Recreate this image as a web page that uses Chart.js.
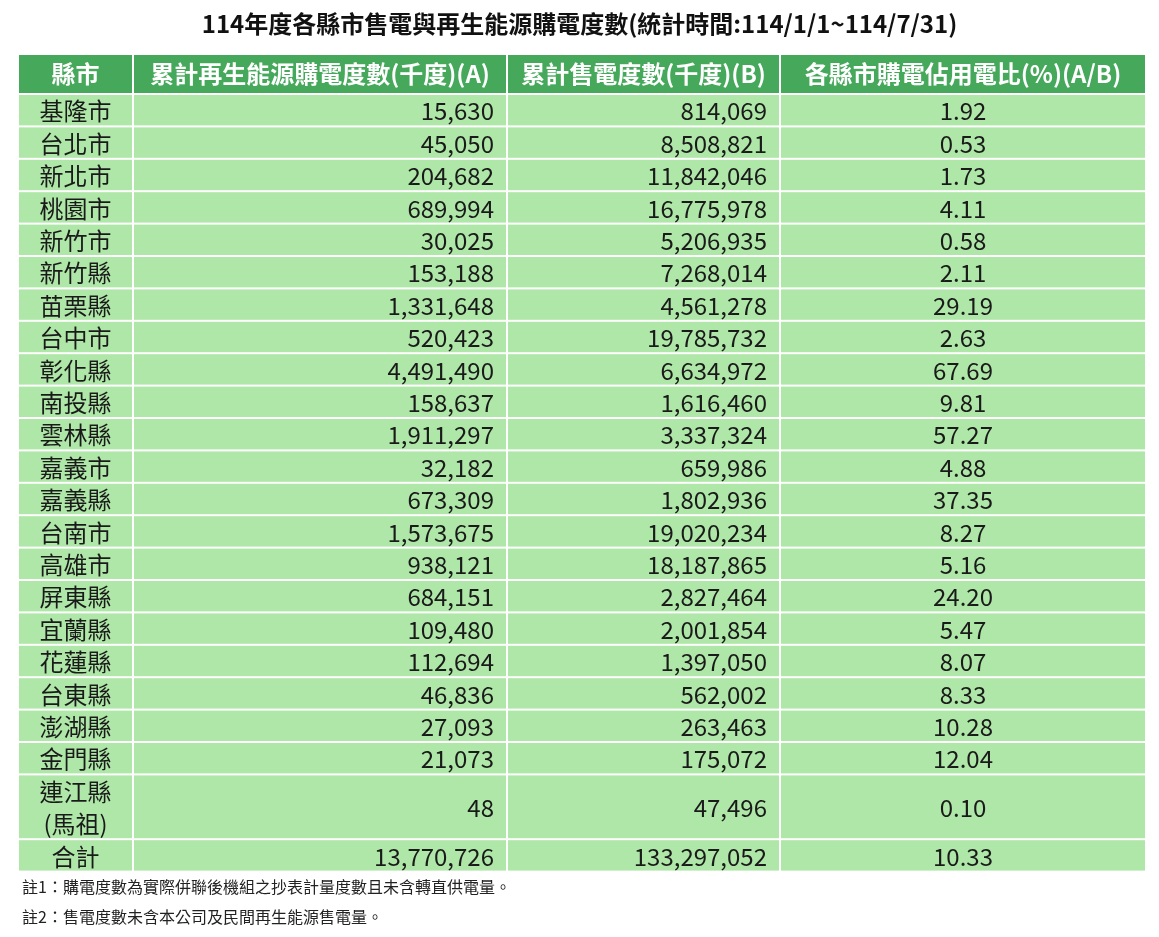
<!DOCTYPE html>
<html><head><meta charset="utf-8">
<script src="https://cdn.jsdelivr.net/npm/chart.js@4"></script>
<style>html,body{margin:0;background:#fff}#wrap{width:1159px;height:937px}</style>
</head><body><div id="wrap"><canvas id="c"></canvas></div>
<script>
const title = '114年度各縣市售電與再生能源購電度數(統計時間:114/1/1~114/7/31)';
const headers = ['縣市', '累計再生能源購電度數(千度)(A)', '累計售電度數(千度)(B)', '各縣市購電佔用電比(%)(A/B)'];
const counties = ['基隆市','台北市','新北市','桃園市','新竹市','新竹縣','苗栗縣','台中市','彰化縣','南投縣','雲林縣','嘉義市','嘉義縣','台南市','高雄市','屏東縣','宜蘭縣','花蓮縣','台東縣','澎湖縣','金門縣','連江縣\n(馬祖)','合計'];
const renewable = [15630,45050,204682,689994,30025,153188,1331648,520423,4491490,158637,1911297,32182,673309,1573675,938121,684151,109480,112694,46836,27093,21073,48,13770726];
const sales = [814069,8508821,11842046,16775978,5206935,7268014,4561278,19785732,6634972,1616460,3337324,659986,1802936,19020234,18187865,2827464,2001854,1397050,562002,263463,175072,47496,133297052];
const ratio = ['1.92','0.53','1.73','4.11','0.58','2.11','29.19','2.63','67.69','9.81','57.27','4.88','37.35','8.27','5.16','24.20','5.47','8.07','8.33','10.28','12.04','0.10','10.33'];
const notes = ['註1：購電度數為實際併聯後機組之抄表計量度數且未含轉直供電量。', '註2：售電度數未含本公司及民間再生能源售電量。'];

// layout (in scale units = px)
const colEdges = [19, 133, 507, 780, 1146];
const rowSpan = counties.map(c => c.includes('\n') ? 2 : 1);
const FONT = '"Noto Sans CJK TC","Noto Sans",sans-serif';

const tablePlugin = {
  id: 'table',
  afterDraw(chart) {
    const ctx = chart.ctx, xs = chart.scales.x, ys = chart.scales.y;
    const X = v => xs.getPixelForValue(v), Y = v => ys.getPixelForValue(v);
    ctx.save();
    ctx.textBaseline = 'middle';
    ctx.fillStyle = '#111';
    ctx.font = 'bold 24px ' + FONT;
    ctx.textAlign = 'center';
    ctx.fillText(title, X(579.5), Y(24));
    // header
    const top0 = 55, hdrH = 38, rowH = 32.4;
    for (let c = 0; c < 4; c++) {
      const x0 = X(colEdges[c]) + (c ? 1 : 0), x1 = X(colEdges[c + 1]) - 1;
      ctx.fillStyle = '#45a85a';
      ctx.fillRect(x0, Y(top0), x1 - x0, Y(top0 + hdrH) - Y(top0));
      ctx.fillStyle = '#fff';
      ctx.font = 'bold 24px ' + FONT;
      ctx.textAlign = 'center';
      ctx.fillText(headers[c], (x0 + x1) / 2, Y(top0 + hdrH / 2));
    }
    let y = top0 + hdrH + 2;
    counties.forEach((name, i) => {
      const h = rowH * rowSpan[i];
      const cells = [name, renewable[i].toLocaleString('en-US'), sales[i].toLocaleString('en-US'), ratio[i]];
      for (let c = 0; c < 4; c++) {
        const x0 = X(colEdges[c]) + (c ? 1 : 0), x1 = X(colEdges[c + 1]) - 1;
        ctx.fillStyle = '#aee7a7';
        ctx.fillRect(x0, Y(y), x1 - x0, Y(y + h - 2) - Y(y));
        ctx.fillStyle = '#1a1a1a';
        ctx.font = '24px ' + FONT;
        const cy = Y(y + (h - 2) / 2 + 1);
        if (c === 1 || c === 2) {
          ctx.textAlign = 'right';
          ctx.fillText(cells[c], x1 - 12, cy);
        } else {
          ctx.textAlign = 'center';
          const lines = cells[c].split('\n');
          lines.forEach((l, k) => ctx.fillText(l, (x0 + x1) / 2, cy + (k - (lines.length - 1) / 2) * 32));
        }
      }
      y += h;
    });
    ctx.fillStyle = '#222';
    ctx.font = '16px ' + FONT;
    ctx.textAlign = 'left';
    ctx.fillText(notes[0], X(22), Y(887));
    ctx.fillText(notes[1], X(22), Y(917));
    ctx.restore();
  }
};

new Chart(document.getElementById('c'), {
  type: 'scatter',
  data: { datasets: [{ data: [] }] },
  options: {
    responsive: true, maintainAspectRatio: false, animation: false,
    layout: { padding: 0 },
    plugins: { legend: { display: false }, tooltip: { enabled: false } },
    scales: {
      x: { type: 'linear', min: 0, max: 1159, display: false },
      y: { type: 'linear', min: 0, max: 937, reverse: true, display: false }
    }
  },
  plugins: [tablePlugin]
});
</script></body></html>
